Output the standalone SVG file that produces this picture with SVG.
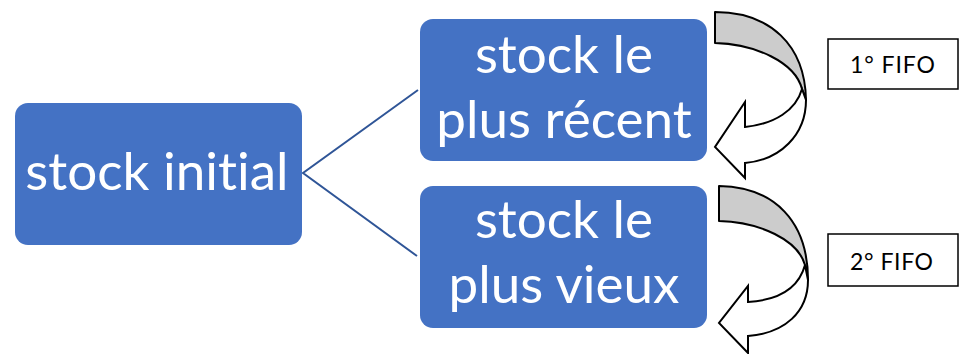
<svg xmlns="http://www.w3.org/2000/svg" width="963" height="354" viewBox="0 0 963 354">
  <style>
    .node { fill: #4472C4; }
    .big { font-family: Lato, "Open Sans", "Liberation Sans", sans-serif; font-size: 53px; fill: #FFFFFF; text-anchor: middle; font-variant-ligatures: none; }
    .tag { fill: #FFFFFF; stroke: #000000; stroke-width: 1.5; }
    .tagtxt { font-family: Lato, "Open Sans", "Liberation Sans", sans-serif; font-size: 23px; fill: #000000; }
    .conn { fill: none; stroke: #2F5597; stroke-width: 2; }
    .back { fill: #CCCCCC; stroke: #000000; stroke-width: 2; stroke-linejoin: round; }
    .front { fill: #FFFFFF; stroke: #000000; stroke-width: 2; stroke-linejoin: miter; }
  </style>

  <g id="connectors">
    <path class="conn" d="M418,90 L303,173 L417,256"/>
  </g>

  <g id="stock-initial">
    <rect class="node" x="15" y="103" width="287" height="142" rx="13"/>
    <text class="big" x="157" y="190">stock initial</text>
  </g>

  <g id="stock-recent">
    <rect class="node" x="420" y="19" width="287" height="142" rx="13"/>
    <text class="big" x="564" y="73">stock le</text>
    <text class="big" x="564" y="138">plus récent</text>
  </g>

  <g id="stock-vieux">
    <rect class="node" x="420" y="186" width="287" height="142" rx="13"/>
    <text class="big" x="564" y="238">stock le</text>
    <text class="big" x="564" y="303">plus vieux</text>
  </g>

  <!-- curved arrows turning back to the left: shaded back band, white front with head -->
  <g id="arrow-1">
    <path class="back" d="M715,12 C770,12 805,45 806,100 L802,89 C795,62 755,44 715,43 Z"/>
    <path class="front" d="M802,89 C796,110 775,124 745,127 L745,102 L715,147 L745,178 L745,163 C780,160 806,135 806,100 Z"/>
  </g>

  <g id="arrow-2">
    <path class="back" d="M719,186 C775,187 808,222 808,280 L805,265 C798,240 760,222 719,221 Z"/>
    <path class="front" d="M805,265 C799,287 780,300 748,302 L748,286 L719,323 L748,353 L748,336 C785,333 808,312 808,280 Z"/>
  </g>

  <g id="fifo-1">
    <rect class="tag" x="828" y="39" width="130" height="50"/>
    <text class="tagtxt" x="850" y="73" textLength="85">1° FIFO</text>
  </g>

  <g id="fifo-2">
    <rect class="tag" x="828" y="234" width="130" height="52"/>
    <text class="tagtxt" x="850" y="270" textLength="83">2° FIFO</text>
  </g>
</svg>
